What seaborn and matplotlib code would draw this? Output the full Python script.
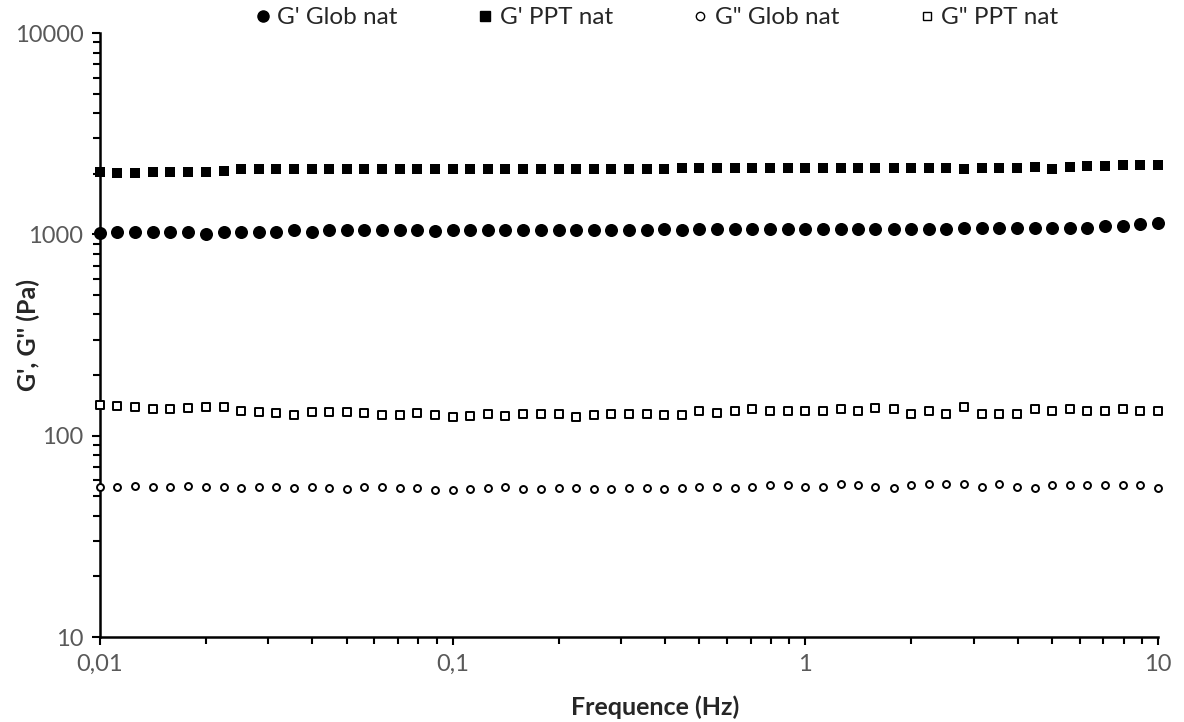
import numpy as np
import pandas as pd
import matplotlib
matplotlib.use('Agg')
import matplotlib.pyplot as plt
import seaborn as sns
from matplotlib.lines import Line2D
from matplotlib.ticker import FixedLocator, FuncFormatter, LogLocator, NullFormatter

# frequency sweep (Hz), 20 points per decade
freq = [0.01, 0.0112, 0.0126, 0.0141, 0.0158, 0.0178, 0.02, 0.0224, 0.0251, 0.0282,
        0.0316, 0.0355, 0.0398, 0.0447, 0.0501, 0.0562, 0.0631, 0.0708, 0.0794, 0.0891,
        0.1, 0.112, 0.126, 0.141, 0.158, 0.178, 0.2, 0.224, 0.251, 0.282,
        0.316, 0.355, 0.398, 0.447, 0.501, 0.562, 0.631, 0.708, 0.794, 0.891,
        1.0, 1.12, 1.26, 1.41, 1.58, 1.78, 2.0, 2.24, 2.51, 2.82,
        3.16, 3.55, 3.98, 4.47, 5.01, 5.62, 6.31, 7.08, 7.94, 8.91,
        10.0]

# G' (Pa)
g1_glob = [1020, 1025, 1025, 1025, 1025, 1025, 1008, 1025, 1025, 1025,
           1025, 1045, 1025, 1045, 1045, 1045, 1045, 1045, 1045, 1040,
           1055, 1055, 1055, 1055, 1055, 1055, 1055, 1055, 1055, 1055,
           1055, 1053, 1065, 1055, 1065, 1065, 1065, 1065, 1065, 1065,
           1065, 1065, 1065, 1065, 1065, 1065, 1065, 1065, 1060, 1080,
           1080, 1080, 1080, 1080, 1080, 1080, 1080, 1095, 1105, 1120,
           1135]
g1_ppt = [2034, 2026, 2026, 2046, 2046, 2046, 2046, 2069, 2100, 2100,
          2100, 2100, 2100, 2100, 2100, 2100, 2100, 2116, 2116, 2116,
          2116, 2116, 2116, 2116, 2116, 2116, 2116, 2116, 2116, 2116,
          2116, 2116, 2116, 2140, 2140, 2140, 2140, 2140, 2140, 2140,
          2140, 2140, 2140, 2140, 2140, 2140, 2140, 2140, 2140, 2110,
          2140, 2140, 2140, 2170, 2100, 2150, 2190, 2190, 2210, 2200,
          2200]

# G'' (Pa)
g2_glob = [55.8, 55.8, 56.5, 55.8, 55.8, 56.5, 55.8, 55.8, 54.8, 55.8,
           55.8, 54.8, 55.8, 54.8, 54.2, 55.8, 55.8, 54.8, 54.8, 53.7,
           53.7, 54.2, 55.2, 55.8, 54.3, 54.3, 55.2, 55.2, 54.3, 54.3,
           55.2, 55.2, 54.3, 55.2, 55.8, 55.8, 55.2, 55.8, 56.7, 56.7,
           55.8, 55.8, 57.3, 56.7, 55.8, 55.2, 56.7, 57.3, 57.3, 57.3,
           55.8, 57.3, 55.8, 55.2, 56.7, 56.7, 56.7, 56.7, 56.7, 56.7,
           55.2]
g2_ppt = [142.1, 141.0, 138.9, 135.2, 135.2, 136.8, 138.9, 138.9, 132.6, 130.7,
          129.2, 126.7, 130.7, 130.7, 130.7, 129.2, 126.7, 126.7, 129.2, 126.7,
          123.4, 125.3, 127.7, 125.8, 127.7, 127.7, 128.7, 123.9, 127.2, 127.7,
          127.7, 128.7, 127.2, 126.7, 133.1, 130.2, 133.1, 135.2, 133.1, 133.1,
          133.1, 133.1, 135.2, 133.1, 137.3, 135.2, 128.7, 133.1, 128.7, 138.3,
          127.7, 127.7, 128.7, 135.2, 133.1, 135.2, 133.1, 133.1, 135.2, 133.1,
          133.1]

labels = ["G' Glob nat", "G' PPT nat", 'G" Glob nat', 'G" PPT nat']
x_ticks = [0.01, 0.1, 1, 10]
y_ticks = [10, 100, 1000, 10000]

sns.set_theme(style='white')
plt.rcParams['font.family'] = ['Lato', 'DejaVu Sans']

TICK_COLOR = '#595959'
TEXT_COLOR = '#262626'


def comma_fmt(v, pos):
    # decimal comma like the original sheet
    return f'{v:g}'.replace('.', ',')


def draw():
    fig = plt.figure(figsize=(11.84, 7.22), dpi=100)
    ax = fig.add_axes([100 / 1184, 85 / 722, 1058 / 1184, 604 / 722])

    df = pd.DataFrame({'freq': freq, 'g1_glob': g1_glob, 'g1_ppt': g1_ppt,
                       'g2_glob': g2_glob, 'g2_ppt': g2_ppt})

    # filled markers: G'
    sns.scatterplot(data=df, x='freq', y='g1_ppt', marker='s', s=48,
                    color='black', linewidth=0, ax=ax, zorder=3, clip_on=False)
    sns.scatterplot(data=df, x='freq', y='g1_glob', marker='o', s=88,
                    color='black', linewidth=0, ax=ax, zorder=3, clip_on=False)
    # open markers: G''
    sns.scatterplot(data=df, x='freq', y='g2_ppt', marker='s', s=28,
                    color='white', edgecolor='black', linewidth=1.4, ax=ax,
                    zorder=3, clip_on=False)
    sns.scatterplot(data=df, x='freq', y='g2_glob', marker='o', s=25,
                    color='white', edgecolor='black', linewidth=1.4, ax=ax,
                    zorder=3, clip_on=False)

    ax.set_xscale('log')
    ax.set_yscale('log')
    ax.set_xlim(0.01, 10)
    ax.set_ylim(10, 10000)

    ax.xaxis.set_major_locator(FixedLocator(x_ticks))
    ax.yaxis.set_major_locator(FixedLocator(y_ticks))
    ax.xaxis.set_major_formatter(FuncFormatter(comma_fmt))
    ax.yaxis.set_major_formatter(FuncFormatter(comma_fmt))
    ax.xaxis.set_minor_locator(LogLocator(base=10, subs=np.arange(2, 10)))
    ax.yaxis.set_minor_locator(LogLocator(base=10, subs=np.arange(2, 10)))
    ax.xaxis.set_minor_formatter(NullFormatter())
    ax.yaxis.set_minor_formatter(NullFormatter())

    for side in ['top', 'right']:
        ax.spines[side].set_visible(False)
    for side in ['left', 'bottom']:
        ax.spines[side].set_color('black')
        ax.spines[side].set_linewidth(1.8)

    ax.tick_params(which='major', direction='out', length=6, width=1.5,
                   color='black', labelcolor=TICK_COLOR, labelsize=17, pad=6)
    ax.tick_params(which='minor', direction='out', length=5, width=1.5,
                   color='black')
    ax.tick_params(axis='x', which='both', bottom=True)
    ax.tick_params(axis='y', which='both', left=True)

    ax.set_xlabel('Frequence (Hz)', fontsize=18, fontweight='bold',
                  color=TEXT_COLOR, va='center')
    ax.set_ylabel("G', G'' (Pa)", fontsize=18, fontweight='bold',
                  color=TEXT_COLOR, va='center')
    # fixed label spots (pixels -> axes fraction)
    ax.xaxis.set_label_coords((655 - 100) / 1058, -(707 - 637) / 604)
    ax.yaxis.set_label_coords(-(100 - 28) / 1058, (637 - 335) / 604)
    ax.grid(False)

    # legend on top in one row
    handles = [
        Line2D([], [], linestyle='none', marker='o', markersize=8,
               markerfacecolor='black', markeredgecolor='black'),
        Line2D([], [], linestyle='none', marker='s', markersize=6.5,
               markerfacecolor='black', markeredgecolor='black'),
        Line2D([], [], linestyle='none', marker='o', markersize=6,
               markerfacecolor='white', markeredgecolor='black', markeredgewidth=1),
        Line2D([], [], linestyle='none', marker='s', markersize=6,
               markerfacecolor='white', markeredgecolor='black', markeredgewidth=1),
    ]
    fig.legend(handles, labels, loc='upper center', ncol=4, frameon=False,
               bbox_to_anchor=(657 / 1184, 1.02), fontsize=17.5,
               handlelength=0.6, handletextpad=0.3, columnspacing=3.3,
               labelcolor=TEXT_COLOR)

    fig.savefig('out.png', dpi=100)
    plt.close(fig)


if __name__ == '__main__':
    draw()
